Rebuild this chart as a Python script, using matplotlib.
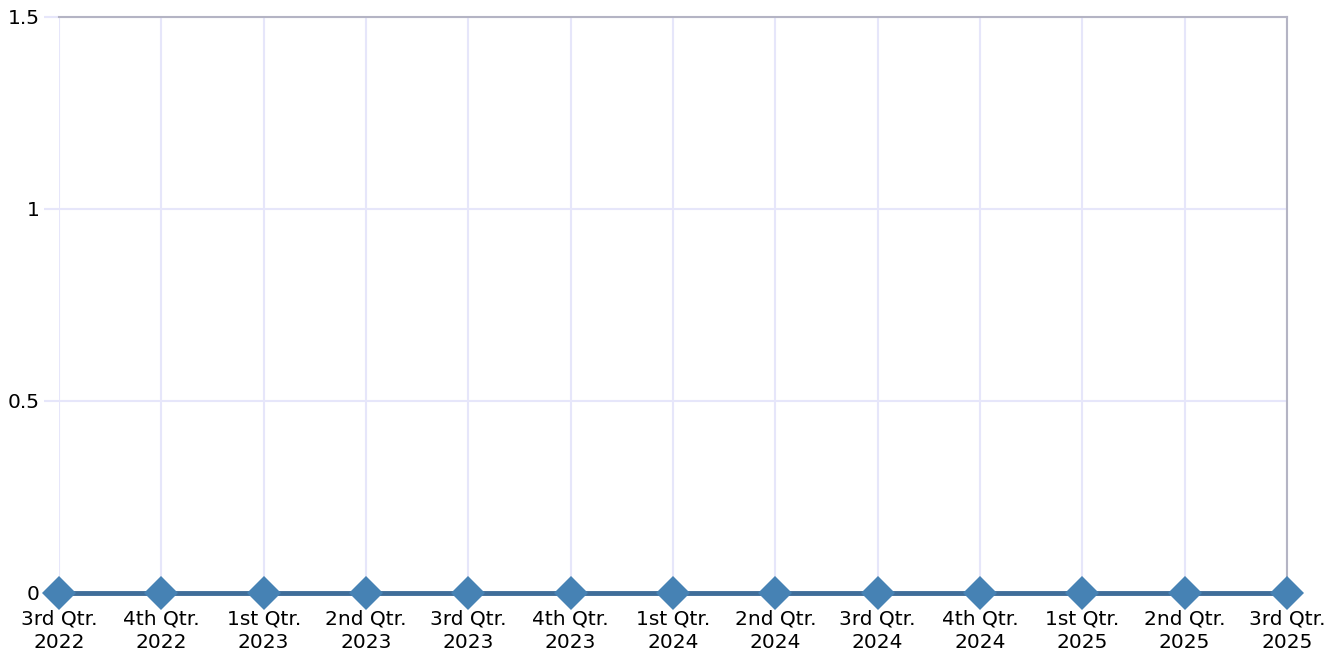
import matplotlib
matplotlib.use('Agg')
import matplotlib.pyplot as plt

# quarterly values
quarters = ['3rd Qtr.\n2022', '4th Qtr.\n2022', '1st Qtr.\n2023', '2nd Qtr.\n2023',
            '3rd Qtr.\n2023', '4th Qtr.\n2023', '1st Qtr.\n2024', '2nd Qtr.\n2024',
            '3rd Qtr.\n2024', '4th Qtr.\n2024', '1st Qtr.\n2025', '2nd Qtr.\n2025',
            '3rd Qtr.\n2025']
values = [0, 0, 0, 0, 0, 0, 0, 0, 0, 0, 0, 0, 0]
y_ticks = [0, 0.5, 1, 1.5]
y_labels = ['0', '0.5', '1', '1.5']

plt.rcParams['font.family'] = ['DejaVu Sans']

fig = plt.figure(figsize=(13.38, 6.56), dpi=100)
ax = fig.add_axes([59 / 1338, 1 - 593 / 656, (1287 - 59) / 1338, (593 - 17) / 656])

x = list(range(len(quarters)))
ax.plot(x, values, color='#3f6d99', linewidth=3.5, zorder=3, clip_on=False)
ax.plot(x, values, linestyle='none', marker='D', markersize=17, markeredgewidth=0,
        color='#4682b4', zorder=4, clip_on=False)

ax.set_xlim(0, len(quarters) - 1)
ax.set_ylim(0, 1.5)
ax.set_xticks(x)
ax.set_xticklabels(quarters, fontsize=14.5, linespacing=1.3)
ax.set_yticks(y_ticks)
ax.set_yticklabels(y_labels, fontsize=14.5)
ax.tick_params(axis='x', length=0, pad=12)
# gridlines run a bit past the left edge, like short ticks
ax.tick_params(axis='y', length=11, width=1.5, color='#e6e6fa', pad=3)
ax.grid(True, color='#e6e6fa', linewidth=1.5, zorder=0)
ax.set_axisbelow(True)

for side in ['left', 'bottom']:
    ax.spines[side].set_visible(False)
for side in ['top', 'right']:
    ax.spines[side].set_color('#b4b4c4')
    ax.spines[side].set_linewidth(1.5)

fig.savefig('out.png', dpi=100)
